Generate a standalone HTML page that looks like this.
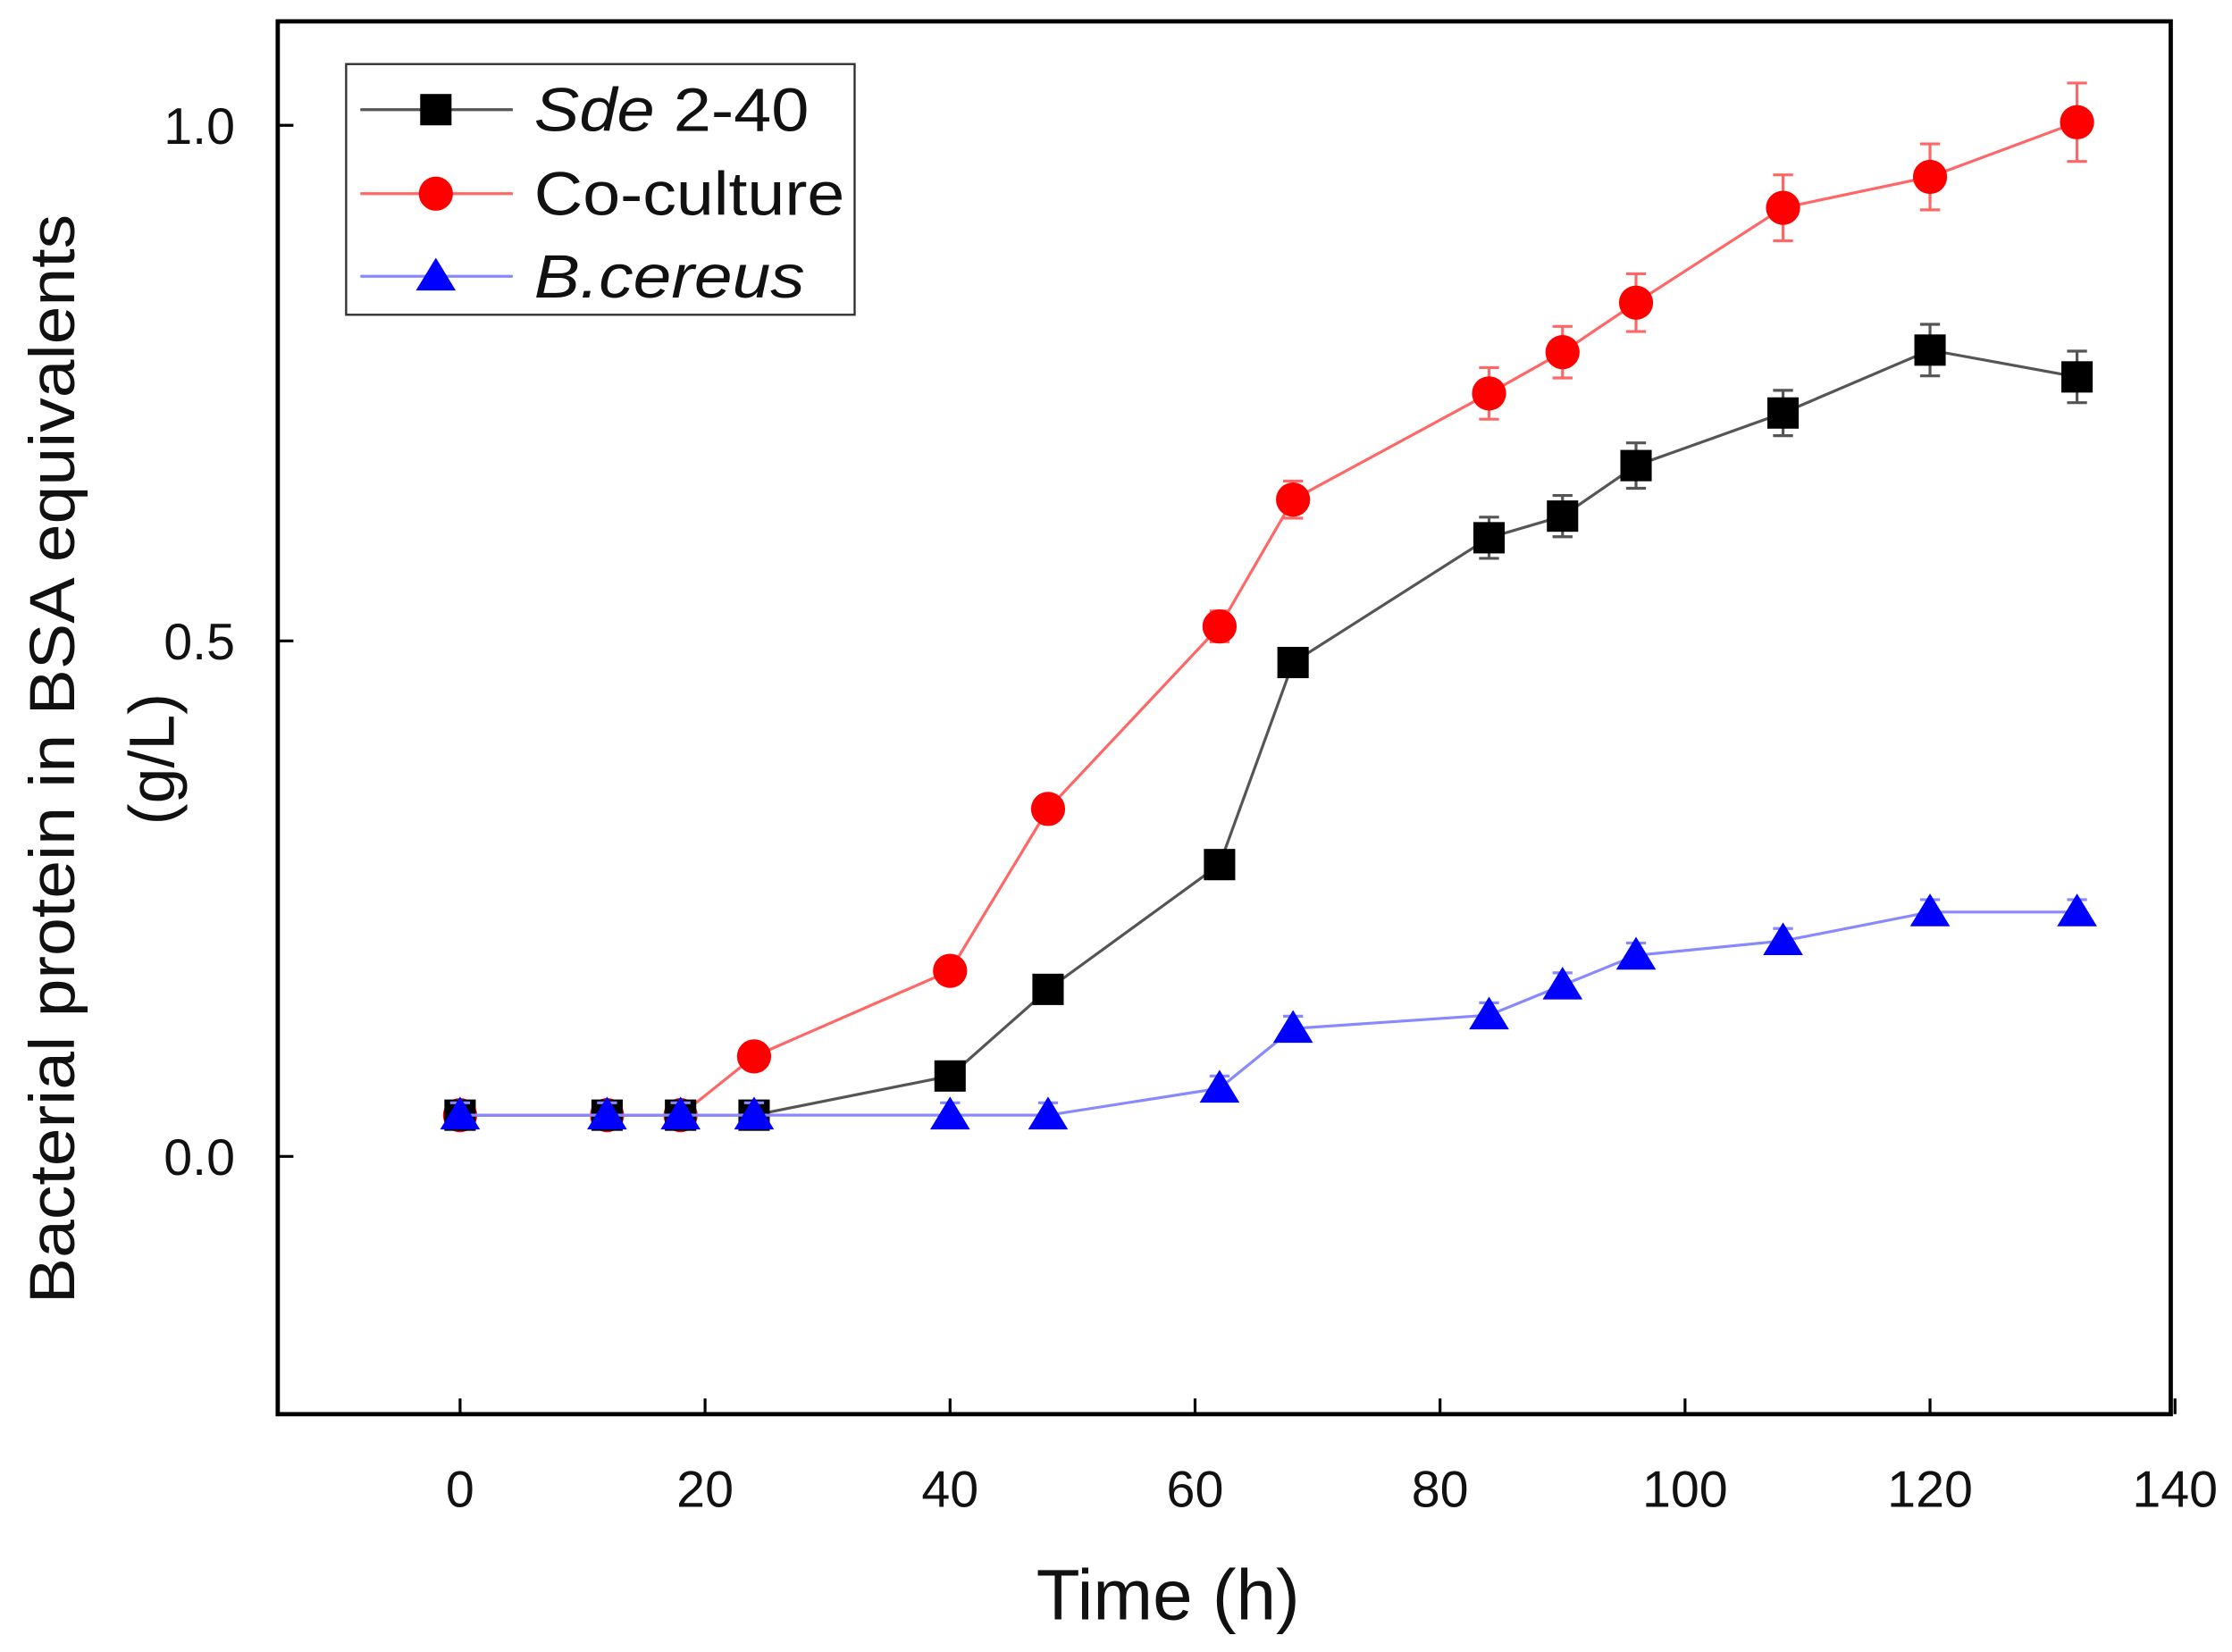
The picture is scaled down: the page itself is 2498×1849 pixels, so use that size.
<!DOCTYPE html>
<html><head><meta charset="utf-8"><style>
html,body{margin:0;padding:0;background:#fff;}
svg{display:block;}
text{font-family:"Liberation Sans",sans-serif;fill:#111;}
</style></head><body>
<svg id="chart" width="2498" height="1849" viewBox="0 0 1567 1160" preserveAspectRatio="none" xmlns="http://www.w3.org/2000/svg">
<rect x="195" y="15" width="1329" height="978" fill="none" stroke="#000" stroke-width="3"/>
<g id="axes"></g>
<g id="series"></g>
<text x="820" y="1137" font-size="50" text-anchor="middle" textLength="185" lengthAdjust="spacingAndGlyphs">Time (h)</text>
<g transform="translate(52,533) rotate(-90)">
<text x="0" y="0" font-size="45" text-anchor="middle" textLength="765" lengthAdjust="spacingAndGlyphs">Bacterial protein in BSA equivalents</text>
<text x="0" y="70" font-size="45" text-anchor="middle">(g/L)</text>
</g>
<g>
<rect x="243" y="45" width="357" height="176" fill="#fff" stroke="#333" stroke-width="1.5"/>
<line x1="253" y1="77" x2="360" y2="77" stroke="#555" stroke-width="2"/>
<rect x="295" y="66" width="22" height="22" fill="#000"/>
<text x="375" y="92" font-size="43" textLength="193" lengthAdjust="spacingAndGlyphs"><tspan font-style="italic">Sde</tspan> 2-40</text>
<line x1="253" y1="136" x2="360" y2="136" stroke="#f66" stroke-width="2"/>
<circle cx="306" cy="136" r="12" fill="#f00"/>
<text x="375" y="151" font-size="43" textLength="218" lengthAdjust="spacingAndGlyphs">Co-culture</text>
<line x1="253" y1="194" x2="360" y2="194" stroke="#88f" stroke-width="2"/>
<polygon points="306,181 320,204 292,204" fill="#00f"/>
<text x="375" y="209" font-size="43" font-style="italic" textLength="190" lengthAdjust="spacingAndGlyphs">B.cereus</text>
</g>
</svg>
<script>
const times=[0,12,18,24,40,48,62,68,84,90,96,108,120,132];
const sde=[0.04,0.04,0.04,0.04,0.078,0.162,0.283,0.479,0.6,0.621,0.67,0.721,0.782,0.756];
const sdeErr=[0.01,0.01,0.01,0.01,0.01,0.012,0.012,0.012,0.02,0.02,0.022,0.022,0.025,0.025];
const coc=[0.04,0.04,0.04,0.097,0.18,0.337,0.514,0.637,0.74,0.78,0.828,0.92,0.95,1.003];
const cocErr=[0.01,0.01,0.01,0.01,0.01,0.012,0.015,0.018,0.025,0.025,0.028,0.032,0.032,0.038];
const bc=[0.04,0.04,0.04,0.04,0.04,0.04,0.066,0.124,0.137,0.166,0.195,0.209,0.237,0.237];
const bcErr=[0.012,0.012,0.012,0.012,0.012,0.012,0.012,0.012,0.012,0.012,0.012,0.012,0.012,0.012];
const xTicks=[0,20,40,60,80,100,120,140];
const yTicks=[0.0,0.5,1.0];
const X=v=>323+v*8.6, Y=v=>812-v*724;
const NS="http://www.w3.org/2000/svg";
function mk(tag,attrs,parent){const e=document.createElementNS(NS,tag);for(const k in attrs)e.setAttribute(k,attrs[k]);parent.appendChild(e);return e;}
const ax=document.getElementById('axes');
xTicks.forEach(t=>{
 const l=mk('line',{x1:X(t),x2:X(t),y1:993,y2:982,stroke:'#000','stroke-width':2},ax);
 
 
 const tx=mk('text',{x:X(t),y:1058,'font-size':36,'text-anchor':'middle'},ax);tx.textContent=t;
 
 
});
yTicks.forEach(t=>{
 const l=mk('line',{x1:195,x2:206,y1:Y(t),y2:Y(t),stroke:'#000','stroke-width':2},ax);
 
 
 const tx=mk('text',{x:165,y:Y(t)+13,'font-size':36,'text-anchor':'end'},ax);tx.textContent=t.toFixed(1);
 
 
});
const sg=document.getElementById('series');
function draw(vals,errs,lineCol,col,shape,name){
 const g=mk('g',{},sg);
 
 
 const p=mk('polyline',{points:times.map((t,i)=>X(t)+','+Y(vals[i])).join(' '),fill:'none',stroke:lineCol,'stroke-width':2},g);
 
 
 times.forEach((t,i)=>{
  const x=X(t),y=Y(vals[i]),e=errs[i]*724;
  mk('path',{d:`M${x},${y-e}V${y+e}M${x-7},${y-e}H${x+7}M${x-7},${y+e}H${x+7}`,stroke:lineCol,'stroke-width':2,fill:'none'},g);
  let m;
  if(shape==='sq')m=mk('rect',{x:x-11,y:y-11,width:22,height:22,fill:col},g);
  else if(shape==='c')m=mk('circle',{cx:x,cy:y,r:12,fill:col},g);
  else m=mk('polygon',{points:`${x},${y-13} ${x+14},${y+10} ${x-14},${y+10}`,fill:col},g);
  
  
 });
}
draw(coc,cocErr,'#f66','#f00','c','coculture');
draw(sde,sdeErr,'#555','#000','sq','sde');
draw(bc,bcErr,'#88f','#00f','t','bcereus');
</script>
</body></html>
